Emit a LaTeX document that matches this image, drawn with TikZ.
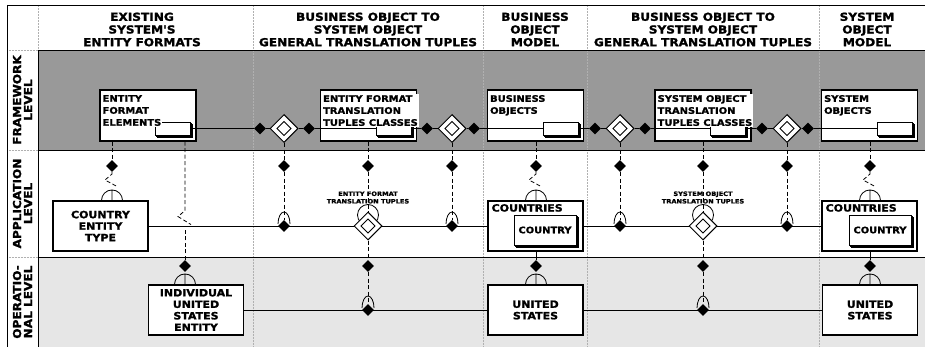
\documentclass[tikz,border=0pt]{standalone}
\usepackage{fontspec}
\setmainfont{DejaVu Sans}
\newfontfamily\widebf{DejaVu Sans}[FakeStretch=1.1, FakeBold=1.5]
\usetikzlibrary{positioning, shapes.geometric, shadows}
\definecolor{FrameGray}{HTML}{999999}
\definecolor{OperGray}{HTML}{E6E6E6}
\definecolor{RuleGray}{HTML}{B0B0B0}

\begin{document}
\begin{tikzpicture}[x=1pt, y=-1pt,
    link/.style={line width=0.8pt},
    dashlink/.style={line width=0.8pt, dash pattern=on 4pt off 2.5pt},
    divider/.style={RuleGray, line width=0.5pt, densely dotted},
    head/.style={align=center, font=\fontsize{11}{12.7}\selectfont\widebf\bfseries},
    lvl/.style={rotate=90, align=center, font=\fontsize{11}{11}\selectfont\widebf\bfseries},
    fwbox/.style={draw, fill=white, line width=1.1pt, minimum width=96pt, minimum height=51pt, inner sep=0pt},
    fwtext/.style={anchor=north west, fill=white, inner sep=1pt, align=left, font=\fontsize{9}{12}\selectfont\widebf\bfseries},
    subbox/.style={draw, fill=white, line width=0.9pt, inner sep=0pt, minimum width=35pt, minimum height=13pt,
      copy shadow={shadow xshift=2.6pt, shadow yshift=-2.6pt, draw, fill=white, line width=0.9pt},
      copy shadow={shadow xshift=1.3pt, shadow yshift=-1.3pt, draw, fill=white, line width=0.9pt}},
    appsub/.style={subbox, minimum width=62pt, minimum height=30pt, font=\fontsize{9}{11}\selectfont\widebf\bfseries},
    appbox/.style={draw, fill=white, line width=1.1pt, minimum width=95pt, minimum height=50pt, inner sep=0pt,
      align=center, font=\fontsize{10}{11.5}\selectfont\widebf\bfseries},
    boxtitle/.style={anchor=north west, inner sep=0pt, font=\fontsize{10}{12}\selectfont\widebf\bfseries},
    tinylbl/.style={align=center, inner sep=0pt, font=\fontsize{6}{7.5}\selectfont\widebf\bfseries},
    joint/.style={diamond, fill=black, inner sep=0pt, minimum size=12pt},
    tuple/.style={diamond, draw, fill=white, line width=1pt, inner sep=0pt, minimum size=28pt,
      path picture={\draw[line width=1pt] ([xshift=-7pt]path picture bounding box.center)
        -- ([yshift=7pt]path picture bounding box.center) -- ([xshift=7pt]path picture bounding box.center)
        -- ([yshift=-7pt]path picture bounding box.center) -- cycle;}},
    boxcap/.pic={\draw[link] (-10.5,0) arc[start angle=180, end angle=360, radius=10.5] (0,0) -- (0,-10.5);},
    hookarc/.pic={\draw[link] (-6,-2) arc[start angle=180, end angle=360, x radius=6, y radius=12];}
  ]
  \useasboundingbox (0,0) rectangle (925,347);

  % bands and rules
  \fill[FrameGray] (38,50) rectangle (925,150);
  \fill[OperGray] (38,257) rectangle (925,347);
  \foreach \cx in {253,483,587,819}
    \draw[divider] (\cx,5) -- (\cx,347);
  \foreach \ry in {50,150,257}
    \draw[divider] (7,\ry) -- (38,\ry);
  \draw[divider] (38,5) -- (38,50);
  \draw[line width=0.9pt] (7,5) -- (925,5) (7,5) -- (7,347) (38,50) -- (38,347);
  \draw[line width=0.6pt] (38,50) -- (925,50);
  \draw[line width=0.9pt] (38,150) -- (925,150) (38,257) -- (925,257);

  % column heads
  \node[head] (hexist) at (142,29.5) {EXISTING\\SYSTEM'S\\ENTITY FORMATS};
  \node[head] (htrans1) at (368,29.5) {BUSINESS OBJECT TO\\SYSTEM OBJECT\\GENERAL TRANSLATION TUPLES};
  \node[head] (hbom) at (535,29.5) {BUSINESS\\OBJECT\\MODEL};
  \node[head] (htrans2) at (703,29.5) {BUSINESS OBJECT TO\\SYSTEM OBJECT\\GENERAL TRANSLATION TUPLES};
  \node[head] (hsom) at (867,29.5) {SYSTEM\\OBJECT\\MODEL};

  % row labels
  \node[lvl] (lfw) at (22.5,100) {FRAMEWORK\\LEVEL};
  \node[lvl] (lapp) at (22.5,203.5) {APPLICATION\\LEVEL};
  \node[lvl] (lop) at (22.5,302) {OPERATIO-\\NAL LEVEL};

  % framework level
  \node[fwbox] (efe) at (148,115.5) {};
  \node[fwbox] (eftc) at (368.5,115.5) {};
  \node[fwbox] (bo) at (535.5,115.5) {};
  \node[fwbox] (sotc) at (703,115.5) {};
  \node[fwbox] (so) at (869.5,115.5) {};
  \node[subbox] (efei) at (172.5,128.5) {};
  \node[subbox] (eftci) at (393.5,128.5) {};
  \node[subbox] (boi) at (560.5,128.5) {};
  \node[subbox] (sotci) at (727.5,128.5) {};
  \node[subbox] (soi) at (894.5,128.5) {};
  \node[fwtext] (efet) at ([shift={(2,4.5)}]efe.north west) {ENTITY\\FORMAT\\ELEMENTS};
  \node[fwtext] (eftct) at ([shift={(2,4.5)}]eftc.north west) {ENTITY FORMAT\\TRANSLATION\\TUPLES CLASSES};
  \node[fwtext] (bot) at ([shift={(2,4.5)}]bo.north west) {BUSINESS\\OBJECTS};
  \node[fwtext] (sotct) at ([shift={(2,4.5)}]sotc.north west) {SYSTEM OBJECT\\TRANSLATION\\TUPLES CLASSES};
  \node[fwtext] (sot) at ([shift={(2,4.5)}]so.north west) {SYSTEM\\OBJECTS};

  \node[joint] (d1a) at (260,128.5) {};
  \node[tuple] (d1b) at (284,128.5) {};
  \node[joint] (d1c) at (309,128.5) {};
  \node[joint] (d2a) at (427,128.5) {};
  \node[tuple] (d2b) at (452,128.5) {};
  \node[joint] (d2c) at (474,128.5) {};
  \node[joint] (d3a) at (595,128.5) {};
  \node[tuple] (d3b) at (620,128.5) {};
  \node[joint] (d3c) at (645,128.5) {};
  \node[joint] (d4a) at (762,128.5) {};
  \node[tuple] (d4b) at (787,128.5) {};
  \node[joint] (d4c) at (808,128.5) {};
  \draw[link] (efei) -- (d1a) -- (d1b) -- (d1c) -- (eftci) -- (d2a) -- (d2b) -- (d2c) -- (boi)
    -- (d3a) -- (d3b) -- (d3c) -- (sotci) -- (d4a) -- (d4b) -- (d4c) -- (soi);

  % application and operational boxes
  \node[appbox] (cet) at (100.5,226) {COUNTRY\\ENTITY\\TYPE};
  \node[appbox] (ctr1) at (535.5,226) {};
  \node[appbox] (ctr2) at (869.5,226) {};
  \node[appsub] (cty1) at (545,230) {COUNTRY};
  \node[appsub] (cty2) at (880,230) {COUNTRY};
  \node[boxtitle] (ctr1t) at ([shift={(4,3.5)}]ctr1.north west) {COUNTRIES};
  \node[boxtitle] (ctr2t) at ([shift={(4,3.5)}]ctr2.north west) {COUNTRIES};
  \node[appbox] (iuse) at (196,310) {INDIVIDUAL\\UNITED\\STATES\\ENTITY};
  \node[appbox] (us1) at (535.5,310) {UNITED\\STATES};
  \node[appbox] (us2) at (870,310) {UNITED\\STATES};

  \draw[link] (cet.east) -- (ctr1.west) (ctr1.east) -- (ctr2.west);
  \draw[link] (iuse.east) -- (us1.west) (us1.east) -- (us2.west);

  % tuple and joint marks
  \draw[link] (368,215) circle[radius=10.5];
  \draw[link] (703,215) circle[radius=10.5];
  \foreach \hx in {284,452,620,787}
    \pic at (\hx,226) {hookarc};
  \pic at (368,310) {hookarc};
  \pic at (703,310) {hookarc};
  \node[tuple] (t1) at (368,226) {};
  \node[tuple] (t2) at (703,226) {};
  \node[joint] (h1) at (284,226) {};
  \node[joint] (h2) at (452,226) {};
  \node[joint] (h3) at (620,226) {};
  \node[joint] (h4) at (787,226) {};
  \node[joint] (g1) at (368,310) {};
  \node[joint] (g2) at (703,310) {};
  \foreach \vx [count=\i] in {112,284,368,452,536,620,703,787,870}
    \node[joint] (v\i) at (\vx,166) {};
  \foreach \wx [count=\i] in {185,368,536,703,870}
    \node[joint] (w\i) at (\wx,266) {};
  \node[tinylbl] (eftl) at (368,197.5) {ENTITY FORMAT\\TRANSLATION TUPLES};
  \node[tinylbl] (sotl) at (703,197.5) {SYSTEM OBJECT\\TRANSLATION TUPLES};

  % vertical connectors
  \draw[dashlink] (efe.south -| v1) -- (v1);
  \draw[dashlink] (v1) -- ++(0,8) -- ++(-7,6) -- ++(13,7);
  \pic at (cet.north -| v1) {boxcap};
  \draw[dashlink] (efe.south -| w1) -- ++(0,69) -- ++(-7,6) -- ++(13,8);
  \draw[dashlink] (w1) -- ++(0,-38);
  \pic at (iuse.north -| w1) {boxcap};
  \draw[dashlink] (d1b) -- (v2) -- (h1);
  \draw[dashlink] (eftc.south -| v3) -- (v3) -- (t1) -- (w2) -- (g1);
  \draw[dashlink] (d2b) -- (v4) -- (h2);
  \draw[dashlink] (bo.south -| v5) -- (v5);
  \draw[dashlink] (v5) -- ++(0,8) -- ++(-7,6) -- ++(13,7);
  \pic at (ctr1.north -| v5) {boxcap};
  \draw[link] (ctr1.south -| w3) -- (w3);
  \pic at (us1.north -| w3) {boxcap};
  \draw[dashlink] (d3b) -- (v6) -- (h3);
  \draw[dashlink] (sotc.south -| v7) -- (v7) -- (t2) -- (w4) -- (g2);
  \draw[dashlink] (d4b) -- (v8) -- (h4);
  \draw[dashlink] (so.south -| v9) -- (v9);
  \draw[dashlink] (v9) -- ++(0,8) -- ++(-7,6) -- ++(13,7);
  \pic at (ctr2.north -| v9) {boxcap};
  \draw[link] (ctr2.south -| w5) -- (w5);
  \pic at (us2.north -| w5) {boxcap};
\end{tikzpicture}
\end{document}
